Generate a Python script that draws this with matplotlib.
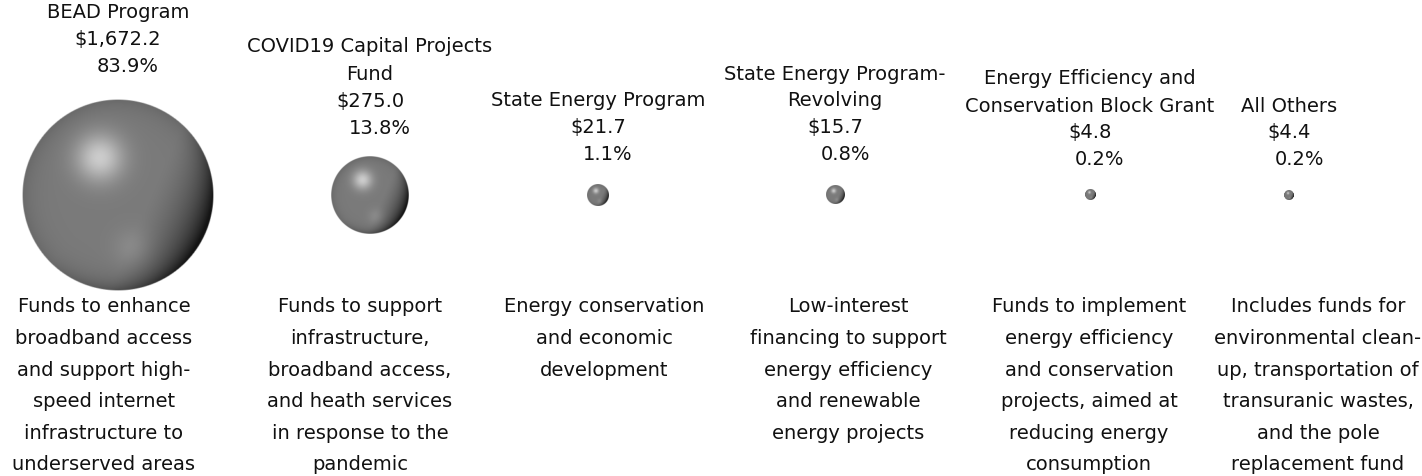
import numpy as np
import matplotlib.pyplot as plt

plt.rcParams['font.family'] = ['DejaVu Sans']

# data (millions $)
programs = ["BEAD Program",
            "COVID19 Capital Projects\nFund",
            "State Energy Program",
            "State Energy Program-\nRevolving",
            "Energy Efficiency and\nConservation Block Grant",
            "All Others"]
amounts = [1672.2, 275.0, 21.7, 15.7, 4.8, 4.4]
shares = [83.9, 13.8, 1.1, 0.8, 0.2, 0.2]
descriptions = [
    ["Funds to enhance", "broadband access", "and support high-", "speed internet",
     "infrastructure to", "underserved areas"],
    ["Funds to support", "infrastructure,", "broadband access,", "and heath services",
     "in response to the", "pandemic"],
    ["Energy conservation", "and economic", "development"],
    ["Low-interest", "financing to support", "energy efficiency", "and renewable",
     "energy projects"],
    ["Funds to implement", "energy efficiency", "and conservation", "projects, aimed at",
     "reducing energy", "consumption"],
    ["Includes funds for", "environmental clean-", "up, transportation of",
     "transuranic wastes,", "and the pole", "replacement fund"],
]

# layout (pixels)
W, H = 1422, 477
bubble_x = [118, 370, 598, 835, 1090, 1289]
bubble_y = 196
head_bottom = [67, 128, 155, 155, 160, 160]
head_h = 27.0
pct_dx = 10
desc_x = [104, 360, 604, 848, 1089, 1318]
desc_top = 307
desc_h = 31.6
max_r = 96.0
fs = 14


def sphere_image(n=300):
    u = np.linspace(-1, 1, n)
    uu, vv = np.meshgrid(u, u)
    rr = np.sqrt(uu ** 2 + vv ** 2)
    val = 0.48 * np.ones_like(uu)
    # highlight upper left
    val += 0.32 * np.exp(-((uu + 0.19) ** 2 + (vv + 0.39) ** 2) / 0.06)
    # shadow towards the right / lower right
    shade = np.clip((0.9 * uu + 0.4 * vv - 0.3) / 0.7, 0, 1)
    val -= 0.30 * shade ** 1.5
    # rim darkening
    val -= (0.07 + 0.10 * np.clip(uu + vv, 0, 1)) * np.clip(rr, 0, 1) ** 8
    # soft reflected light in lower half
    val += 0.06 * np.exp(-((uu - 0.15) ** 2 + (vv - 0.55) ** 2) / 0.04)
    val = np.clip(val, 0.08, 1)
    img = np.zeros((n, n, 4))
    img[..., 0] = val
    img[..., 1] = val
    img[..., 2] = val
    img[..., 3] = np.clip((1 - rr) * n / 2, 0, 1)
    return img


fig = plt.figure(figsize=(W / 100, H / 100), dpi=100)
ax = fig.add_axes([0, 0, 1, 1])

img = sphere_image()
k = max_r / np.sqrt(max(amounts))
for i, amt in enumerate(amounts):
    r = k * np.sqrt(amt)
    cx = bubble_x[i]
    ax.imshow(img, extent=(cx - r, cx + r, bubble_y + r, bubble_y - r),
              origin='upper', interpolation='bilinear', zorder=2)

    # header: name, amount, share
    lines = programs[i].split("\n") + [f"${amt:,.1f}", f"{shares[i]:.1f}%"]
    for j, txt in enumerate(lines):
        y = head_bottom[i] - (len(lines) - 1 - j) * head_h
        dx = pct_dx if j == len(lines) - 1 else 0
        ax.text(cx + dx, y, txt, ha='center', va='center', fontsize=fs,
                color='#111111')

    # description under the bubble
    for j, txt in enumerate(descriptions[i]):
        ax.text(desc_x[i], desc_top + j * desc_h, txt, ha='center', va='center',
                fontsize=fs, color='#111111')

ax.set_aspect('auto')
ax.set_xlim(0, W)
ax.set_ylim(H, 0)
ax.axis('off')
fig.savefig("out.png", dpi=100)
